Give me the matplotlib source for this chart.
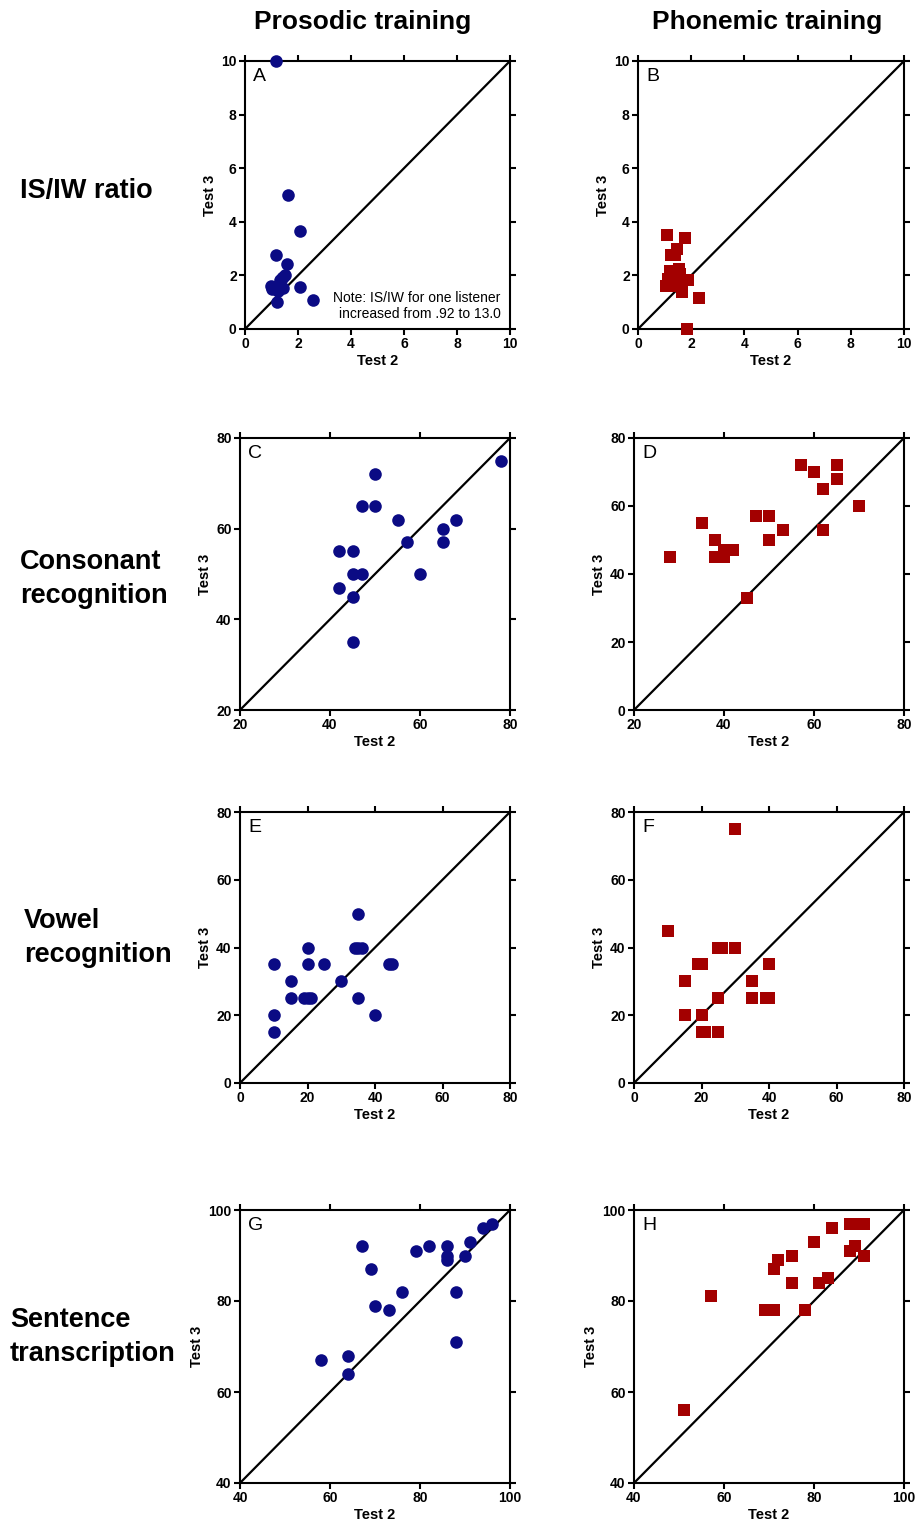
import matplotlib
matplotlib.use("Agg")
import matplotlib.pyplot as plt

plt.rcParams['font.family'] = ['Liberation Sans', 'DejaVu Sans']

# Panel A - prosodic, IS/IW ratio
a_x = [1.16, 1.64, 2.08, 1.16, 1.57, 1.52, 1.45, 1.32, 1.38, 0.98, 1.02, 1.26, 1.45, 1.22, 2.08, 2.55, 1.12]
a_y = [10.0, 5.0, 3.66, 2.75, 2.43, 2.02, 1.94, 1.84, 1.90, 1.62, 1.50, 1.42, 1.52, 1.00, 1.57, 1.10, 1.58]
# Panel B - phonemic, IS/IW ratio
b_x = [1.10, 1.76, 1.47, 1.23, 1.40, 1.53, 1.19, 1.88, 1.07, 1.13, 1.38, 1.60, 1.66, 2.28, 1.84, 1.32, 1.57]
b_y = [3.50, 3.41, 2.98, 2.75, 2.75, 2.25, 2.16, 1.81, 1.62, 1.88, 1.81, 1.69, 1.38, 1.15, 0.00, 1.62, 2.06]
# Panel C - prosodic, consonant recognition
c_x = [78, 50, 47, 50, 55, 68, 65, 57, 65, 42, 45, 45, 47, 60, 42, 45, 45]
c_y = [75, 72, 65, 65, 62, 62, 60, 57, 57, 55, 55, 50, 50, 50, 47, 45, 35]
# Panel D - phonemic, consonant recognition
d_x = [28, 35, 38, 38, 40, 40, 42, 45, 47, 50, 50, 53, 57, 60, 65, 65, 62, 62, 70]
d_y = [45, 55, 50, 45, 45, 47, 47, 33, 57, 57, 50, 53, 72, 70, 72, 68, 65, 53, 60]
# Panel E - prosodic, vowel recognition
e_x = [10, 10, 10, 15, 15, 20, 20, 19, 20, 21, 25, 30, 35, 34, 35, 36, 35, 40, 44, 45]
e_y = [35, 20, 15, 30, 25, 40, 35, 25, 25, 25, 35, 30, 50, 40, 40, 40, 25, 20, 35, 35]
# Panel F - phonemic, vowel recognition
f_x = [30, 10, 25, 26, 30, 19, 20, 15, 35, 40, 25, 35, 39, 40, 15, 20, 20, 21, 25]
f_y = [75, 45, 40, 40, 40, 35, 35, 30, 30, 35, 25, 25, 25, 25, 20, 20, 15, 15, 15]
# Panel G - prosodic, sentence transcription
g_x = [96, 94, 91, 90, 86, 86, 86, 82, 79, 67, 69, 76, 88, 70, 73, 88, 58, 64, 64]
g_y = [97, 96, 93, 90, 92, 90, 89, 92, 91, 92, 87, 82, 82, 79, 78, 71, 67, 68, 64]
# Panel H - phonemic, sentence transcription
h_x = [51, 57, 69, 70, 71, 71, 72, 75, 75, 78, 80, 81, 83, 84, 88, 89, 91, 88, 89, 91]
h_y = [56, 81, 78, 78, 78, 87, 89, 90, 84, 78, 93, 84, 85, 96, 97, 97, 97, 91, 92, 90]

col_titles = ["Prosodic training", "Phonemic training"]
row_labels = ["IS/IW ratio", "Consonant\nrecognition", "Vowel\nrecognition", "Sentence\ntranscription"]
letters = ["A", "B", "C", "D", "E", "F", "G", "H"]

W, H = 915, 1531
fig = plt.figure(figsize=(W / 100, H / 100), dpi=100)

# (left, right, top, bottom) in pixels
boxes = [
    (245, 510, 61, 329), (638, 904, 61, 329),
    (240, 510, 438, 710), (634, 904, 438, 710),
    (240, 510, 812, 1083), (634, 904, 812, 1083),
    (240, 510, 1210, 1483), (634, 904, 1210, 1483),
]
limits = [
    ((0, 10), (0, 10), [0, 2, 4, 6, 8, 10], [0, 2, 4, 6, 8, 10]),
    ((0, 10), (0, 10), [0, 2, 4, 6, 8, 10], [0, 2, 4, 6, 8, 10]),
    ((20, 80), (20, 80), [20, 40, 60, 80], [20, 40, 60, 80]),
    ((20, 80), (0, 80), [20, 40, 60, 80], [0, 20, 40, 60, 80]),
    ((0, 80), (0, 80), [0, 20, 40, 60, 80], [0, 20, 40, 60, 80]),
    ((0, 80), (0, 80), [0, 20, 40, 60, 80], [0, 20, 40, 60, 80]),
    ((40, 100), (40, 100), [40, 60, 80, 100], [40, 60, 80, 100]),
    ((40, 100), (40, 100), [40, 60, 80, 100], [40, 60, 80, 100]),
]
data = [(a_x, a_y), (b_x, b_y), (c_x, c_y), (d_x, d_y),
        (e_x, e_y), (f_x, f_y), (g_x, g_y), (h_x, h_y)]

blue = '#0b0b84'
red = '#a30000'

for i, (box, lim, (xs, ys)) in enumerate(zip(boxes, limits, data)):
    l, r, t, b = box
    ax = fig.add_axes([l / W, 1 - b / H, (r - l) / W, (b - t) / H])
    # corner-to-corner reference line
    ax.plot([0, 1], [0, 1], transform=ax.transAxes, color='black', lw=1.6, zorder=1)
    if i % 2 == 0:
        ax.scatter(xs, ys, s=82, marker='o', color=blue, zorder=3, clip_on=False, linewidths=0)
    else:
        ax.scatter(xs, ys, s=64, marker='s', color=red, zorder=3, clip_on=False, linewidths=0)
    ax.set_xlim(lim[0])
    ax.set_ylim(lim[1])
    ax.set_xticks(lim[2])
    ax.set_yticks(lim[3])
    for sp in ax.spines.values():
        sp.set_linewidth(1.5)
    ax.tick_params(direction='out', length=4.5, width=1.5,
                   labelsize=10, pad=1.5, top=True, right=True)
    for lab in ax.get_xticklabels() + ax.get_yticklabels():
        lab.set_fontweight('bold')
    ax.set_xlabel("Test 2", fontsize=10.5, fontweight='bold', labelpad=2)
    ax.set_ylabel("Test 3", fontsize=10.5, fontweight='bold', labelpad=3)
    ax.text(0.03, 0.975, letters[i], transform=ax.transAxes, fontsize=14,
            ha='left', va='top')
    if i == 0:
        ax.text(0.965, 0.03, "Note: IS/IW for one listener\nincreased from .92 to 13.0",
                transform=ax.transAxes, fontsize=10, ha='right', va='bottom',
                linespacing=1.15)

fig.text(363 / W, 1 - 22 / H, col_titles[0], fontsize=19, fontweight='bold',
         ha='center', va='center')
fig.text(767 / W, 1 - 22 / H, col_titles[1], fontsize=19, fontweight='bold',
         ha='center', va='center')

row_pos = [(20, 191), (20, 579), (24, 938), (10, 1337)]
for (x, y), lab in zip(row_pos, row_labels):
    fig.text(x / W, 1 - y / H, lab, fontsize=19.5, fontweight='bold',
             ha='left', va='center', linespacing=1.4)

fig.savefig("out.png", dpi=100)
